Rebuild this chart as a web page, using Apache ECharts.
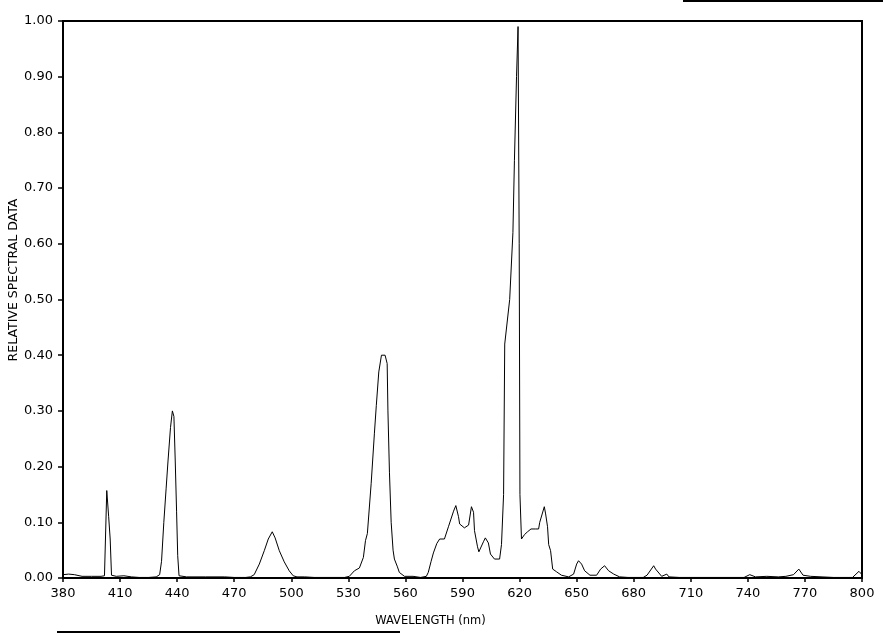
<!DOCTYPE html>
<html>
<head>
<meta charset="utf-8">
<script src="https://cdn.jsdelivr.net/npm/echarts@6/dist/echarts.min.js"></script>
<style>
html,body{margin:0;padding:0;background:#fff;}
#chart{width:883px;height:636px;}
</style>
</head>
<body>
<div id="chart"></div>
<script>
// Wavelength (nm) sample positions
var wavelength = [
 380,383,386,390,395,400,401.8,403,404,404.8,405.5,408,412,416,420,425,429,
 430.8,431.8,433,434.2,435.2,436.5,437.5,438.3,439.0,439.7,440.3,441,445,455,465,470,476,
 478.5,480.5,483.2,485.8,487.9,490,491.5,493.7,496.3,498.9,501,503,507,512,520,528,
 530.5,533.2,535.8,537.9,539,540,542,543.7,544.7,546,547.4,549.3,550.4,550.8,551.6,552.5,553.5,554.2,555.8,556.8,559.5,564,568,
 571,572,573.5,574.7,576.5,578,580.5,582.6,585.3,586.5,587.9,588.5,591,593.2,594.7,595.8,596.3,597.9,598.6,
 601,602,603.6,604.7,606.8,609.5,610.5,611.6,612.2,614.8,616.5,617.3,618.4,619.2,619.8,620.2,
 621,622.6,624.2,626,628.5,630,630.6,633,633.7,634.7,635.3,636.3,637.4,639.5,642,645.8,648.4,
 650,651,652.6,654.2,657,660.5,662.6,664.7,666.8,669.5,672.6,677,685,687,690.5,691.5,694.7,697.4,698.5,704,720,738,
 741,744,750,756,760,764,766.8,769,773,779,785,795,798.4,800
];
// Relative spectral data at each wavelength
var relative = [
 0.006,0.007,0.006,0.003,0.003,0.003,0.004,0.157,0.11,0.07,0.005,0.003,0.004,0.002,0.001,0.001,0.002,
 0.006,0.03,0.10,0.16,0.21,0.27,0.30,0.29,0.21,0.12,0.04,0.004,0.002,0.002,0.002,0.001,0.001,
 0.002,0.006,0.025,0.049,0.07,0.083,0.072,0.049,0.029,0.013,0.004,0.002,0.002,0.001,0.001,0.001,
 0.003,0.013,0.018,0.037,0.067,0.08,0.17,0.26,0.31,0.37,0.40,0.40,0.385,0.30,0.19,0.10,0.05,0.034,0.02,0.01,0.003,0.003,0.001,
 0.003,0.01,0.03,0.045,0.062,0.07,0.07,0.092,0.12,0.13,0.11,0.097,0.09,0.095,0.128,0.118,0.085,0.056,0.047,
 0.065,0.072,0.063,0.043,0.034,0.034,0.06,0.15,0.42,0.50,0.62,0.75,0.90,0.99,0.60,0.15,
 0.07,0.078,0.083,0.088,0.088,0.088,0.10,0.128,0.115,0.092,0.06,0.049,0.016,0.011,0.005,0.002,0.007,
 0.025,0.031,0.025,0.013,0.005,0.005,0.016,0.022,0.013,0.007,0.002,0.001,0.001,0.005,0.022,0.016,0.003,0.007,0.002,0.001,0.001,0.001,
 0.006,0.002,0.003,0.002,0.003,0.006,0.016,0.005,0.003,0.002,0.001,0.001,0.012,0.006
];
var xTicks = [380,410,440,470,500,530,560,590,620,650,680,710,740,770,800];
var yTicks = ['0.00','0.10','0.20','0.30','0.40','0.50','0.60','0.70','0.80','0.90','1.00'];
var xTitle = 'WAVELENGTH (nm)';
var yTitle = 'RELATIVE SPECTRAL DATA';

var pts = wavelength.map(function(w,i){ return [w, relative[i]]; });
var chart = echarts.init(document.getElementById('chart'), null, {renderer:'canvas'});
var font = 'DejaVu Sans';
chart.setOption({
  animation:false,
  backgroundColor:'#fff',
  grid:{left:63, right:21, top:21, bottom:58, containLabel:false, outerBoundsMode:'none',
        show:true, borderColor:'#000', borderWidth:2, backgroundColor:'transparent'},
  xAxis:{
    type:'value', min:380, max:800, interval:30,
    name:xTitle, nameLocation:'middle', nameGap:37,
    nameTextStyle:{fontFamily:font, fontSize:11.5, color:'#000', padding:[0,64,0,0]},
    axisLine:{show:true, lineStyle:{color:'#000', width:2}},
    axisTick:{show:true, inside:false, length:4, lineStyle:{color:'#000', width:1.5}},
    axisLabel:{margin:9, fontFamily:font, fontSize:13, color:'#000',
      formatter:function(v){ return xTicks.indexOf(v)>=0 ? String(v) : ''; }},
    splitLine:{show:false}
  },
  yAxis:{
    type:'value', min:0, max:1, interval:0.1,
    axisLine:{show:true, lineStyle:{color:'#000', width:2}},
    axisTick:{show:true, inside:false, length:5, lineStyle:{color:'#000', width:1.5}},
    axisLabel:{margin:10, fontFamily:font, fontSize:13, color:'#000',
      formatter:function(v){ var i=Math.round(v*10); return yTicks[i]; }},
    splitLine:{show:false}
  },
  graphic:[
    {type:'text', x:14, y:280, rotation:Math.PI/2,
     style:{text:yTitle, fontFamily:font, fontSize:12.5, fill:'#000', align:'center', verticalAlign:'middle'}},
    {type:'rect', shape:{x:683, y:0, width:200, height:2}, style:{fill:'#000'}},
    {type:'rect', shape:{x:57, y:631, width:343, height:2}, style:{fill:'#000'}}
  ],
  series:[{
    type:'line', data:pts, showSymbol:false, symbol:'none',
    lineStyle:{color:'#000', width:1}, smooth:false, clip:true
  }]
});
</script>
</body>
</html>
